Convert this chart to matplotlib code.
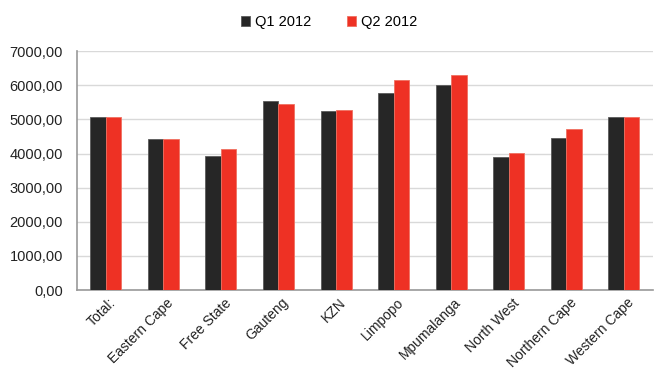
import numpy as np
import matplotlib.pyplot as plt
from matplotlib.transforms import ScaledTranslation
from matplotlib.ticker import FuncFormatter

plt.rcParams['font.family'] = ['Liberation Sans', 'DejaVu Sans']

regions = ["Total:", "Eastern Cape", "Free State", "Gauteng", "KZN",
           "Limpopo", "Mpumalanga", "North West", "Northern Cape", "Western Cape"]
q1_2012 = [5070, 4420, 3930, 5530, 5240, 5770, 6020, 3890, 4470, 5070]
q2_2012 = [5070, 4420, 4130, 5440, 5280, 6150, 6300, 4020, 4710, 5070]

fig = plt.figure(figsize=(6.58, 3.71), dpi=100)
ax = fig.add_axes([0.117, 0.218, 0.875, 0.644])

x = np.arange(len(regions))
w = 0.27
ax.bar(x - w / 2, q1_2012, w, color="#262626", edgecolor="#5a5a5a", linewidth=0.6,
       label="Q1 2012", zorder=3)
ax.bar(x + w / 2, q2_2012, w, color="#ee3124", edgecolor="#f07060", linewidth=0.6,
       label="Q2 2012", zorder=3)

ax.set_xlim(-0.5, len(regions) - 0.5)
ax.set_ylim(0, 7000)
ax.set_yticks(range(0, 7001, 1000))
ax.yaxis.set_major_formatter(FuncFormatter(lambda v, p: f"{v:.2f}".replace(".", ",")))
ax.grid(axis="y", color="#d9d9d9", linewidth=1, zorder=0)
ax.set_xticks(x)
ax.set_xticklabels(regions, rotation=45, ha="right", rotation_mode="anchor")
ax.tick_params(length=0, labelsize=10.5, colors="#222222")
ax.tick_params(axis="x", labelsize=10, pad=4)
ax.tick_params(axis="y", pad=10)
# nudge the slanted labels so they end just right of each group centre
for lbl in ax.get_xticklabels():
    lbl.set_transform(lbl.get_transform() + ScaledTranslation(3 / 100, 0, fig.dpi_scale_trans))

for side in ["top", "right"]:
    ax.spines[side].set_visible(False)
for side in ["left", "bottom"]:
    ax.spines[side].set_color("#999999")
    ax.spines[side].set_linewidth(1.2)

fig.legend(loc="upper center", bbox_to_anchor=(0.5, 0.995), ncol=2, frameon=False,
           fontsize=10.5, handlelength=0.65, handleheight=0.65, handletextpad=0.35,
           columnspacing=2.4)

fig.savefig("out.png", dpi=100)
